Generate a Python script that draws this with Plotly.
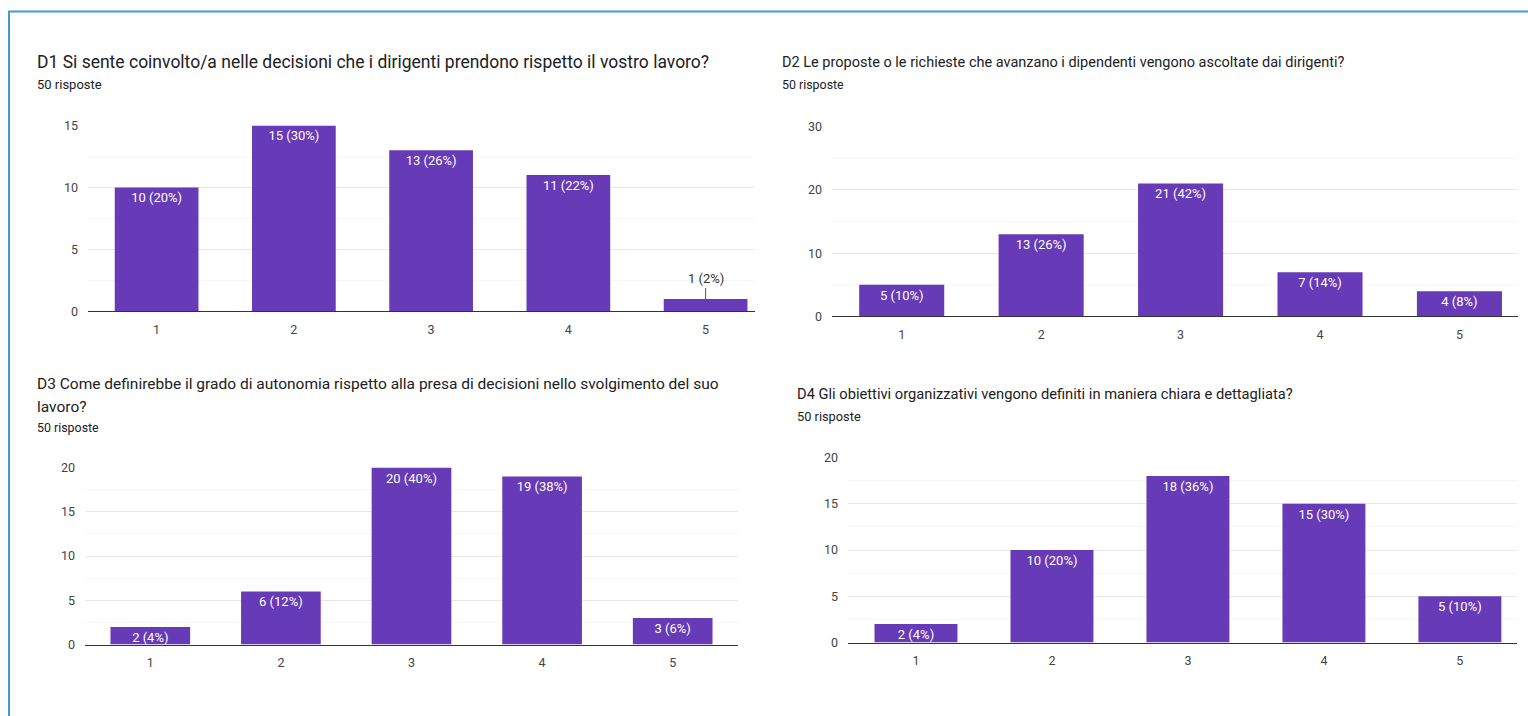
import plotly.graph_objects as go

W, H = 1528, 724

# Survey answers (scale 1-5), 50 responses each
categories = [1, 2, 3, 4, 5]
d1_counts = [10, 15, 13, 11, 1]
d2_counts = [5, 13, 21, 7, 4]
d3_counts = [2, 6, 20, 19, 3]
d4_counts = [2, 10, 18, 15, 5]
total_responses = 50

titles = [
    ["D1 Si sente coinvolto/a nelle decisioni che i dirigenti prendono rispetto il vostro lavoro?"],
    ["D2 Le proposte o le richieste che avanzano i dipendenti vengono ascoltate dai dirigenti?"],
    ["D3 Come definirebbe il grado di autonomia rispetto alla presa di decisioni nello svolgimento del suo",
     "lavoro?"],
    ["D4 Gli obiettivi organizzativi vengono definiti in maniera chiara e dettagliata?"],
]
subtitle = f"{total_responses} risposte"

BAR = "#673ab7"
FONT = "Roboto, Arial, sans-serif"
TICK_SIZE = 12.5
LABEL_SIZE = 13

# vertical placement: the page is drawn slightly condensed, so positions are
# given in page pixels and converted here
SCALE_Y, OFFSET_Y = 0.979, 7.6


def px_x(x):
    return x / W


def px_y(y):
    return 1 - ((y - OFFSET_Y) / SCALE_Y) / H


# panel geometry in page pixels
panels = [
    dict(counts=d1_counts, l=88, r=755, t=125, b=311, ymax=15, dtick=5, xr=5.36,
         tx=35, ty=[62], sy=84, tsize=17.5, ssize=13, outside=[4]),
    dict(counts=d2_counts, l=832, r=1518, t=126, b=316, ymax=30, dtick=10, xr=5.42,
         tx=780, ty=[62], sy=84, tsize=14.5, ssize=12.4, outside=[]),
    dict(counts=d3_counts, l=85, r=738, t=467, b=644, ymax=20, dtick=5, xr=5.5,
         tx=35, ty=[383, 406], sy=427, tsize=15.5, ssize=12.4, outside=[]),
    dict(counts=d4_counts, l=848, r=1517, t=457, b=642, ymax=20, dtick=5, xr=5.42,
         tx=795, ty=[393], sy=416, tsize=14.7, ssize=12.8, outside=[]),
]

fig = go.Figure()
annotations = []

for i, p in enumerate(panels):
    n = i + 1
    xa = "x" if n == 1 else f"x{n}"
    ya = "y" if n == 1 else f"y{n}"
    labels = [f"{c} ({round(100 * c / total_responses)}%)" for c in p["counts"]]
    positions = ["none" if k in p["outside"] else "inside" for k in range(len(categories))]
    fig.add_trace(go.Bar(
        x=categories, y=p["counts"], width=0.61,
        marker=dict(color=BAR, line=dict(width=0)),
        text=labels, textposition=positions, insidetextanchor="end",
        textfont=dict(color="white", size=LABEL_SIZE, family=FONT),
        xaxis=xa, yaxis=ya, showlegend=False, hoverinfo="skip",
    ))
    # small bars get their label above, joined by a short leader line
    for k in p["outside"]:
        annotations.append(dict(
            x=categories[k], y=p["counts"][k], xref=xa, yref=ya,
            text=labels[k], showarrow=True, arrowhead=0, arrowwidth=1,
            arrowcolor="#555", ax=0, ay=-11, standoff=0,
            font=dict(size=LABEL_SIZE, color="#333", family=FONT),
            yanchor="bottom",
        ))

    xkey = "xaxis" if n == 1 else f"xaxis{n}"
    ykey = "yaxis" if n == 1 else f"yaxis{n}"
    fig.layout[xkey] = dict(
        domain=[px_x(p["l"]), px_x(p["r"])], anchor=ya,
        range=[0.5, p["xr"]], tickvals=categories, ticks="",
        showgrid=False, zeroline=False, showline=True,
        linecolor="#333", linewidth=1.3,
        tickfont=dict(size=TICK_SIZE, color="#444", family=FONT),
        ticklabelstandoff=6, fixedrange=True,
    )
    fig.layout[ykey] = dict(
        domain=[px_y(p["b"]), px_y(p["t"])], anchor=xa,
        range=[0, p["ymax"]], dtick=p["dtick"], ticks="",
        showgrid=True, gridcolor="#e8e8e8", gridwidth=1,
        zeroline=False, showline=False,
        minor=dict(dtick=p["dtick"] / 2, showgrid=True, gridcolor="#f6f6f6"),
        tickfont=dict(size=TICK_SIZE, color="#444", family=FONT),
        ticklabelstandoff=9, fixedrange=True,
    )

    for line, ty in zip(titles[i], p["ty"]):
        annotations.append(dict(
            x=px_x(p["tx"]), y=px_y(ty), xref="paper", yref="paper",
            text=line, showarrow=False, xanchor="left", yanchor="middle",
            font=dict(size=p["tsize"], color="#202124", family=FONT),
        ))
    annotations.append(dict(
        x=px_x(p["tx"]), y=px_y(p["sy"]), xref="paper", yref="paper",
        text=subtitle, showarrow=False, xanchor="left", yanchor="middle",
        font=dict(size=p["ssize"], color="#202124", family=FONT),
    ))

fig.update_layout(
    width=W, height=H,
    margin=dict(l=0, r=0, t=0, b=0),
    paper_bgcolor="white", plot_bgcolor="white",
    annotations=annotations,
    uniformtext=dict(minsize=11, mode="show"),
    shapes=[dict(
        type="rect", xref="paper", yref="paper",
        x0=px_x(9), x1=1.02, y0=-0.05, y1=px_y(11),
        line=dict(color="#3d9bd1", width=2), fillcolor="rgba(0,0,0,0)",
        layer="above",
    )],
)

fig.write_html("out.html", config={"displayModeBar": False})
